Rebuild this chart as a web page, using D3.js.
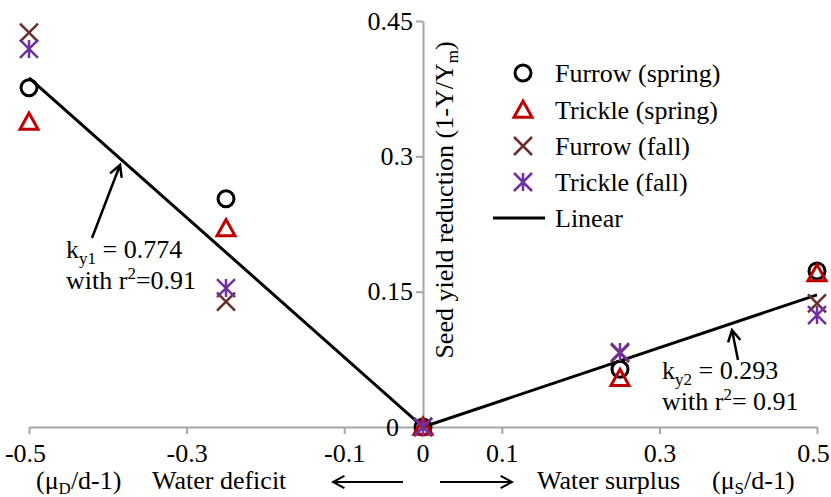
<!DOCTYPE html>
<html>
<head>
<meta charset="utf-8">
<script src="https://cdn.jsdelivr.net/npm/d3@7"></script>
<style>
  body { margin: 0; background: #fff; }
</style>
</head>
<body>
<div id="canvas"></div>
<script>
// water-use ratio (x) and seed yield reduction for each treatment
const xVals = [-0.5, -0.25, 0, 0.25, 0.5];
const furrowSpring = [0.376, 0.253, 0, 0.064, 0.173];
const trickleSpring = [0.338, 0.22, 0, 0.054, 0.17];
const furrowFall = [0.437, 0.139, 0, 0.082, 0.137];
const trickleFall = [0.419, 0.154, 0, 0.083, 0.124];

// fitted linear pieces
const lineX = [-0.5, 0, 0.5];
const lineY = [0.387, 0, 0.1465];

const xTicks = [-0.5, -0.3, -0.1, 0.1, 0.3, 0.5];
const yTicks = [0, 0.15, 0.3, 0.45];
const seriesNames = ["Furrow (spring)", "Trickle (spring)", "Furrow (fall)", "Trickle (fall)", "Linear"];

const width = 831;
const height = 497;
const fs = 26;
const face = "'Liberation Serif', monospace";

const canvas = d3.select("#canvas");
const svg = canvas.append("svg")
    .attr("width", width)
    .attr("height", height);

const x = d3.scaleLinear().domain([-0.5, 0.5]).range([29, 817]);
const y = d3.scaleLinear().domain([0, 0.45]).range([427, 21]);

const axisColor = "#a6a6a6";

// new text with the serif face
function txt(g, tx, ty) {
    return g.append("text").attr("x", tx).attr("y", ty)
        .style("font-family", face).style("font-size", fs + "px");
}

// x axis
const gx = svg.append("g")
    .attr("transform", `translate(0,${y(0)})`)
    .call(d3.axisBottom(x).tickValues(xTicks).tickSize(7).tickSizeOuter(0).tickPadding(10)
        .tickFormat(d => String(d)));
gx.select(".domain").attr("stroke", axisColor).attr("stroke-width", 2);
gx.selectAll(".tick line").attr("stroke", axisColor).attr("stroke-width", 2);
gx.selectAll(".tick text").attr("fill", "#000")
    .style("font-family", face).style("font-size", fs + "px");
gx.selectAll(".tick").filter(d => d === 0.5).select("text").attr("dx", -4);
gx.selectAll(".tick").filter(d => d === -0.5).select("text").attr("dx", -4);

// y axis
const gy = svg.append("g")
    .attr("transform", `translate(${x(0)},0)`)
    .call(d3.axisLeft(y).tickValues(yTicks).tickSize(7).tickSizeOuter(0).tickPadding(3)
        .tickFormat(d => String(d)));
gy.select(".domain").attr("stroke", axisColor).attr("stroke-width", 2);
gy.selectAll(".tick line").attr("stroke", axisColor).attr("stroke-width", 2);
gy.selectAll(".tick text").attr("fill", "#000")
    .style("font-family", face).style("font-size", fs + "px");
gy.selectAll(".tick").filter(d => d === 0).select("text").attr("dx", -14);

// the "0" under the origin
txt(svg, x(0), y(0) + 17 + 0.71 * fs)
    .attr("text-anchor", "middle")
    .text("0");

// y axis title
const yt = txt(svg, 0, 0)
    .attr("transform", `translate(453,200) rotate(-90)`)
    .attr("text-anchor", "middle");
yt.append("tspan").text("Seed yield reduction (1-Y/Y");
yt.append("tspan").attr("dy", 5).style("font-size", "17px").text("m");
yt.append("tspan").attr("dy", -5).text(")");

// fitted line
const line = d3.line().x(d => x(d[0])).y(d => y(d[1]));
svg.append("path")
    .datum(d3.zip(lineX, lineY))
    .attr("d", line)
    .attr("fill", "none")
    .attr("stroke", "#000")
    .attr("stroke-width", 3);

// marker shapes
const colors = ["#000000", "#c00000", "#6b2d2a", "#7030a0"];

function drawMarker(g, kind, cx, cy) {
    if (kind === 0) {
        g.append("circle").attr("cx", cx).attr("cy", cy).attr("r", 8)
            .attr("fill", "none").attr("stroke", colors[0]).attr("stroke-width", 3);
    } else if (kind === 1) {
        const s = 9;
        g.append("path")
            .attr("d", `M${cx},${cy - s}L${cx + s},${cy + s * 0.8}L${cx - s},${cy + s * 0.8}Z`)
            .attr("fill", "none").attr("stroke", colors[1]).attr("stroke-width", 3);
    } else if (kind === 2) {
        const s = 9;
        g.append("path")
            .attr("d", `M${cx - s},${cy - s}L${cx + s},${cy + s}M${cx + s},${cy - s}L${cx - s},${cy + s}`)
            .attr("stroke", colors[2]).attr("stroke-width", 2.5);
    } else {
        const s = 9;
        g.append("path")
            .attr("d", `M${cx - s},${cy - s}L${cx + s},${cy + s}M${cx + s},${cy - s}L${cx - s},${cy + s}M${cx},${cy - s}L${cx},${cy + s}`)
            .attr("stroke", colors[3]).attr("stroke-width", 2.5);
    }
}

const allSeries = [furrowSpring, trickleSpring, furrowFall, trickleFall];
const gm = svg.append("g");
allSeries.forEach((vals, k) => {
    vals.forEach((v, i) => drawMarker(gm, k, x(xVals[i]), y(v)));
});

// legend
const legY = [73, 110, 146, 182, 218];
const lg = svg.append("g");
seriesNames.forEach((name, i) => {
    if (i < 4) drawMarker(lg, i, 523, legY[i]);
    else lg.append("line").attr("x1", 493).attr("x2", 545).attr("y1", legY[i]).attr("y2", legY[i])
        .attr("stroke", "#000").attr("stroke-width", 3);
    txt(lg, 555, legY[i]).attr("dy", "0.33em").text(name);
});

// arrows with open heads
function arrow(x1, y1, x2, y2, w) {
    const a = Math.atan2(y2 - y1, x2 - x1);
    const h = 13, sp = 0.5;
    svg.append("path")
        .attr("d", `M${x1},${y1}L${x2},${y2}` +
            `M${x2 - h * Math.cos(a - sp)},${y2 - h * Math.sin(a - sp)}L${x2},${y2}` +
            `L${x2 - h * Math.cos(a + sp)},${y2 - h * Math.sin(a + sp)}`)
        .attr("fill", "none").attr("stroke", "#000").attr("stroke-width", w);
}

arrow(92, 238, 120, 165, 2.5);
arrow(738, 360, 732, 330, 2.5);

function ktext(tx, ty, sub, val, r2) {
    const t1 = txt(svg, tx, ty);
    t1.append("tspan").text("k");
    t1.append("tspan").attr("dy", 6).style("font-size", "17px").text(sub);
    t1.append("tspan").attr("dy", -6).text(" = " + val);
    const t2 = txt(svg, tx, ty + 31);
    t2.append("tspan").text("with r");
    t2.append("tspan").attr("dy", -10).style("font-size", "17px").text("2");
    t2.append("tspan").attr("dy", 10).text(r2);
}
ktext(66, 258, "y1", "0.774", "=0.91");
ktext(662, 379, "y2", "0.293", "= 0.91");

// bottom captions
const capY = 489;
function caption(tx, parts) {
    const t = txt(svg, tx, capY);
    parts.forEach(p => {
        const s = t.append("tspan").text(p[0]);
        if (p[1]) s.attr("dy", p[1]);
        if (p[2]) s.style("font-size", p[2]);
    });
}
caption(36, [["(μ"], ["D", 5, "17px"], ["/d-1)", -5]]);
caption(152, [["Water deficit"]]);
caption(537, [["Water surplus"]]);
caption(712, [["(μ"], ["S", 5, "17px"], ["/d-1)", -5]]);
arrow(403, 482, 333, 482, 2);
arrow(440, 482, 512, 482, 2);
</script>
</body>
</html>
